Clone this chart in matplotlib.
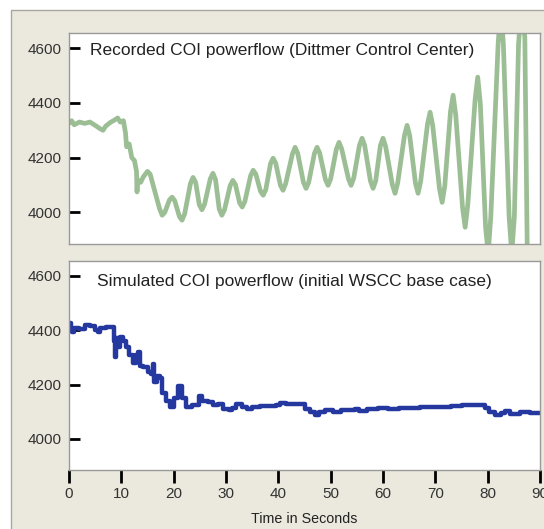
import matplotlib
matplotlib.use("Agg")
import matplotlib.pyplot as plt
from matplotlib.patches import Rectangle

plt.rcParams["font.family"] = ["Liberation Sans", "DejaVu Sans"]

# Recorded COI powerflow
rec_t = [0.0, 0.5, 1.0, 2.0, 3.0, 4.0, 5.0, 6.0, 6.5, 7.0, 8.0, 8.5, 9.3, 9.8, 10.4,
         10.8, 11.0, 11.5, 12.0, 12.5, 12.9, 13.0, 13.1, 13.7, 14.2, 15.0, 15.5, 16.5,
         17.3, 17.8, 18.3, 19.2, 19.7, 20.2, 21.1, 21.6, 22.1, 23.2, 23.7, 24.2,
         24.9, 25.4, 25.9, 27.0, 27.5, 28.0, 28.7, 29.2, 29.7, 30.8, 31.3, 31.8,
         32.6, 33.1, 33.6, 34.7, 35.2, 35.7, 36.6, 37.1, 37.6, 38.5, 39.0, 39.5,
         40.4, 40.9, 41.4, 42.7, 43.2, 43.7, 44.8, 45.3, 45.8, 46.9, 47.4, 47.9,
         49.0, 49.5, 50.0, 51.1, 51.6, 52.1, 53.4, 53.9, 54.4, 55.5, 56.0, 56.5,
         57.6, 58.1, 58.6, 59.5, 60.0, 60.5, 61.8, 62.3, 62.8, 64.1, 64.6, 65.1,
         66.2, 66.7, 67.2, 68.5, 69.0, 69.5, 70.8, 71.3, 71.8, 72.9, 73.4, 73.9,
         75.2, 75.7, 76.2, 77.6, 78.1, 78.6, 79.6, 80.1, 80.6, 82.0, 82.5, 83.0,
         84.1, 84.6, 85.1, 85.9, 86.4, 87.1, 87.6]
rec_mw = [4325, 4335, 4320, 4330, 4325, 4330, 4318, 4305, 4300, 4315, 4330, 4335, 4345,
          4330, 4335, 4290, 4240, 4250, 4200, 4190, 4150, 4075, 4120, 4110, 4130, 4150,
          4140, 4070,
          4014, 3990, 4000, 4046, 4056, 4043, 3985, 3972, 3995, 4105, 4128, 4110,
          4028, 4010, 4030, 4123, 4143, 4120, 4013, 3990, 4009, 4098, 4117, 4102,
          4035, 4020, 4040, 4134, 4154, 4140, 4077, 4063, 4083, 4178, 4198, 4180,
          4099, 4081, 4105, 4214, 4238, 4216, 4110, 4088, 4110, 4216, 4238, 4217,
          4120, 4099, 4123, 4232, 4256, 4232, 4123, 4099, 4125, 4245, 4271, 4244,
          4115, 4088, 4115, 4244, 4271, 4241, 4100, 4070, 4107, 4281, 4318, 4281,
          4107, 4070, 4114, 4322, 4366, 4317, 4086, 4037, 4096, 4369, 4428, 4356,
          4018, 3946, 4028, 4412, 4494, 4397, 3947, 3850, 3985, 4615, 4750, 4615,
          3985, 3850, 3985, 4615, 4750, 4640, 3800]

# Simulated COI powerflow (initial WSCC base case)
sim_t = [0.0, 0.3, 0.6, 1.0, 2.0, 3.0, 4.0, 5.0, 5.5, 6.0, 7.0, 8.3, 8.6, 8.8, 9.0,
         9.4, 9.8, 10.4, 10.8, 11.4, 12.2, 12.8, 13.2, 13.6, 14.2, 15.0, 15.6, 16.0,
         16.3, 16.8, 17.3, 17.8, 18.5, 19.3, 20.0, 20.8, 21.6, 22.4, 23.5, 24.8, 25.5,
         26.5, 27.5, 28.5, 29.5, 30.5, 31.2, 32.0, 33.0, 34.0, 35.0, 36.5, 38.0, 39.5,
         40.3, 41.5, 43.0, 44.1, 45.0, 46.0, 47.0, 47.8, 49.0, 50.5, 52.0, 54.6, 55.5,
         57.0, 59.0, 61.0, 63.0, 65.0, 67.0, 70.0, 73.0, 75.1, 76.0, 78.9, 79.5, 80.3,
         81.4, 82.5, 83.3, 84.3, 85.2, 86.2, 87.1, 88.0, 90.0]
sim_mw = [4425, 4400, 4395, 4410, 4405, 4420, 4415, 4400, 4395, 4410, 4412, 4413, 4360,
          4300, 4370, 4340, 4375, 4360, 4340, 4310, 4280, 4310, 4318, 4270, 4266, 4245,
          4240, 4275, 4210, 4230, 4225, 4170, 4140, 4118, 4150, 4195, 4150, 4118, 4125,
          4158, 4140, 4135, 4123, 4128, 4108, 4105, 4115, 4130, 4118, 4110, 4118, 4122,
          4120, 4125, 4133, 4128, 4130, 4128, 4110, 4100, 4087, 4098, 4105, 4100, 4105,
          4108, 4103, 4110, 4112, 4110, 4115, 4113, 4116, 4118, 4119, 4123, 4126, 4126,
          4112, 4100, 4087, 4095, 4101, 4093, 4090, 4100, 4100, 4095, 4095]

y_ticks = [4000, 4200, 4400, 4600]
x_ticks = [0, 10, 20, 30, 40, 50, 60, 70, 80, 90]

W, H = 544, 529
fig = plt.figure(figsize=(W / 100, H / 100), dpi=100)
fig.patch.set_facecolor("white")
frame = Rectangle((11 / W, -0.01), 1.0, 1 - 10 / H + 0.01, transform=fig.transFigure,
                  facecolor="#ebe8dd", edgecolor="#a9a79f", linewidth=1, zorder=-10)
fig.add_artist(frame)

ax1 = fig.add_axes([69 / W, 1 - 244 / H, 471 / W, 211 / H])
ax2 = fig.add_axes([69 / W, 1 - 470 / H, 471 / W, 209 / H])

ax1.plot(rec_t, rec_mw, color="#9cbe95", linewidth=3.4,
         solid_joinstyle="round", solid_capstyle="round")
ax2.plot(sim_t, sim_mw, color="#2438a0", linewidth=3.2, drawstyle="steps-post")

for ax, title, tx, ty in [(ax1, "Recorded COI powerflow (Dittmer Control Center)", 0.045, 0.917),
                          (ax2, "Simulated COI powerflow (initial WSCC base case)", 0.059, 0.902)]:
    ax.set_facecolor("white")
    ax.set_xlim(0, 90)
    ax.set_ylim(3885, 4655)
    ax.set_yticks(y_ticks)
    ax.tick_params(axis="y", direction="in", length=8, width=2, color="black",
                   labelcolor="#333333", labelsize=11, pad=5)
    for s in ax.spines.values():
        s.set_color("#9a9a9a")
        s.set_linewidth(1)
    ax.text(tx, ty, title, transform=ax.transAxes,
            ha="left", va="center", fontsize=12.5, color="#222222")

ax1.set_xticks([])
ax2.set_xticks(x_ticks)
ax2.tick_params(axis="x", direction="out", length=9, width=2, color="black",
                labelcolor="#333333", labelsize=11, pad=3)

fig.text(304.5 / W, 1 - 519 / H, "Time in Seconds", ha="center", va="center",
         fontsize=10.3, color="#222222")

fig.savefig("out.png", dpi=100)
